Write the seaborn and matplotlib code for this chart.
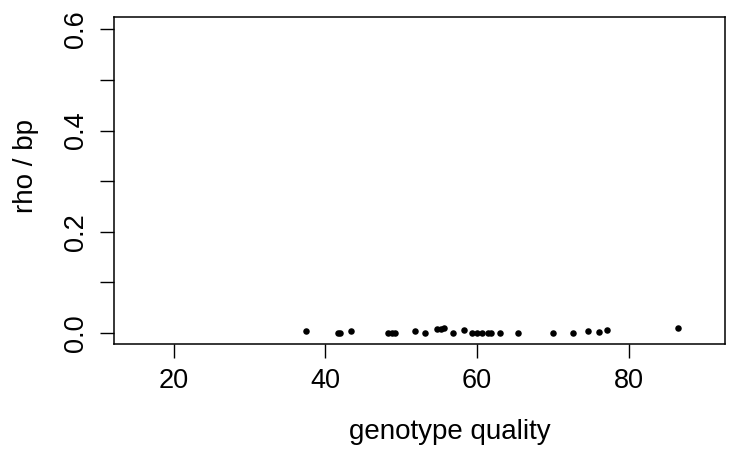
import matplotlib
matplotlib.use("Agg")
import matplotlib.pyplot as plt
import seaborn as sns
import pandas as pd

genotype_quality = [37.4, 41.7, 41.9, 43.4, 48.3, 48.8, 49.2, 51.8, 53.2, 54.7, 55.2, 55.7,
                    56.8, 58.3, 59.3, 60.0, 60.6, 61.5, 61.9, 63.0, 65.4, 70.0, 72.6,
                    74.6, 76.1, 77.1, 86.5]
rho_per_bp = [0.0045, 0.0005, 0.001, 0.004, 0.001, 0.001, 0.001, 0.0045, 0.001, 0.008, 0.0085, 0.009,
              0.001, 0.005, 0.0005, 0.0005, 0.0005, 0.0005, 0.0005, 0.0005, 0.0005, 0.0005, 0.001,
              0.0045, 0.002, 0.006, 0.009]

df = pd.DataFrame({"genotype quality": genotype_quality, "rho / bp": rho_per_bp})

sns.set_style("ticks")
plt.rcParams["font.family"] = ["Liberation Sans", "DejaVu Sans"]

W, H = 739, 450
fig = plt.figure(figsize=(W / 100, H / 100), dpi=100)
left, right, top, bottom = 114, 725.3, 17, 344
ax = fig.add_axes([left / W, 1 - bottom / H, (right - left) / W, (bottom - top) / H])

sns.scatterplot(data=df, x="genotype quality", y="rho / bp", ax=ax,
                color="black", s=22, linewidth=0, edgecolor="black")

ax.set_xlim(12.14, 92.74)
ax.set_ylim(-0.0217, 0.6243)
ax.set_xticks([20, 40, 60, 80])
ax.set_xticklabels(["20", "40", "60", "80"])
ax.set_yticks([0.0, 0.1, 0.2, 0.3, 0.4, 0.5, 0.6])
ax.set_yticklabels(["0.0", "", "0.2", "", "0.4", "", "0.6"])

for sp in ax.spines.values():
    sp.set_visible(True)
    sp.set_linewidth(1.1)
    sp.set_color("black")

ax.tick_params(axis="both", direction="out", length=10, width=1.0, color="black",
               labelsize=19.5, labelcolor="black")
ax.tick_params(axis="x", pad=7)
ax.tick_params(axis="y", pad=8)
for lab in ax.get_yticklabels():
    lab.set_rotation(90)
    lab.set_va("center")

ax.set_xlabel("genotype quality", fontsize=20, color="black")
ax.set_ylabel("rho / bp", fontsize=20, color="black")
ax.xaxis.set_label_coords((450 - left) / (right - left), (bottom - 419) / (bottom - top))
ax.yaxis.set_label_coords((39 - left) / (right - left), (bottom - 165.5) / (bottom - top))

fig.savefig("out.png", dpi=100, facecolor="white")
